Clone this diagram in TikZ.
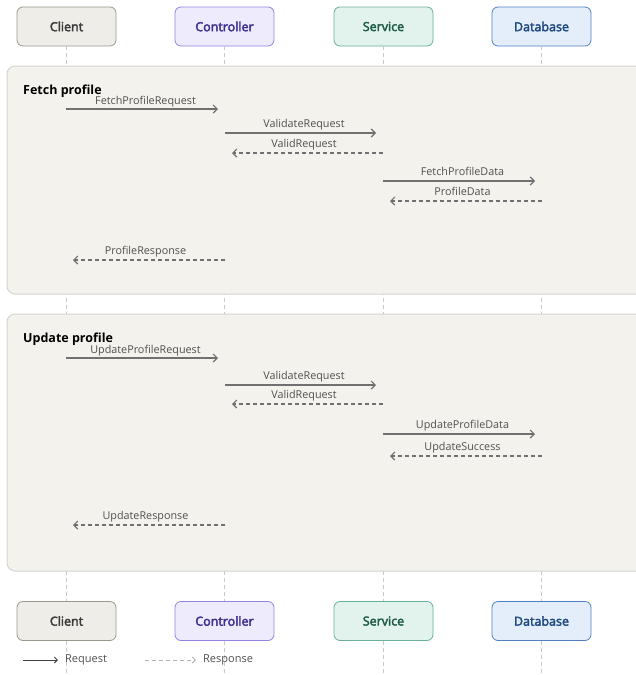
\documentclass[tikz,border=0pt]{standalone}
\usepackage{fontspec}
\setmainfont{Open Sans}
\newfontfamily\semibold[FakeBold=3]{Open Sans}
\usetikzlibrary{arrows.meta}
\definecolor{lifegray}{HTML}{C8C8C8}
\definecolor{groupfill}{HTML}{F3F2EC}
\definecolor{groupline}{HTML}{D6D4CE}
\definecolor{msgline}{HTML}{707070}
\definecolor{msgtext}{HTML}{505050}
\definecolor{clientfill}{HTML}{EFEDE8}
\definecolor{clientline}{HTML}{9B978F}
\definecolor{clienttext}{HTML}{3A3A3A}
\definecolor{ctrlfill}{HTML}{EEEBFC}
\definecolor{ctrlline}{HTML}{8F84E0}
\definecolor{ctrltext}{HTML}{3D3190}
\definecolor{svcfill}{HTML}{E1F3EC}
\definecolor{svcline}{HTML}{6BAF94}
\definecolor{svctext}{HTML}{1E5A48}
\definecolor{dbfill}{HTML}{E4EEFA}
\definecolor{dbline}{HTML}{4E80C2}
\definecolor{dbtext}{HTML}{1F4A80}
\tikzset{
  actor/.style={rounded corners=6pt, minimum width=99pt, minimum height=39pt,
    line width=0.8pt, font=\fontsize{12.5}{14}\semibold, inner sep=0pt},
  lifeline/.style={draw=lifegray, line width=0.8pt, dash pattern=on 4pt off 3pt},
  grp/.style={fill=groupfill, draw=groupline, line width=1pt, rounded corners=8pt},
  grptitle/.style={anchor=base west, font=\fontsize{12.5}{14}\selectfont\bfseries, text=black, inner sep=0pt},
  req/.style={draw=msgline, line width=1.2pt, -{Straight Barb[length=4pt,width=8pt,line width=1.2pt]}, shorten >=7pt},
  resp/.style={draw=msgline, line width=1.1pt, dash pattern=on 4pt off 3pt,
    -{Straight Barb[length=4pt,width=8pt,line width=1.1pt]}, shorten >=7pt},
  msglabel/.style={font=\fontsize{10.8}{12}\selectfont, text=msgtext, inner sep=0pt, anchor=base},
  legtext/.style={anchor=west, inner sep=0pt, font=\fontsize{11}{12}\selectfont, text=msgtext}
}
\begin{document}
\begin{tikzpicture}[x=1pt,y=-1pt]
\useasboundingbox (0,0) rectangle (636,675);

% participants, top and bottom
\node[actor, fill=clientfill, draw=clientline, text=clienttext] (clientT) at (66.5,26.5) {Client};
\node[actor, fill=ctrlfill, draw=ctrlline, text=ctrltext] (ctrlT) at (224.5,26.5) {Controller};
\node[actor, fill=svcfill, draw=svcline, text=svctext] (svcT) at (383.5,26.5) {Service};
\node[actor, fill=dbfill, draw=dbline, text=dbtext] (dbT) at (541.5,26.5) {Database};
\node[actor, fill=clientfill, draw=clientline, text=clienttext] (clientB) at (66.5,621) {Client};
\node[actor, fill=ctrlfill, draw=ctrlline, text=ctrltext] (ctrlB) at (224.5,621) {Controller};
\node[actor, fill=svcfill, draw=svcline, text=svctext] (svcB) at (383.5,621) {Service};
\node[actor, fill=dbfill, draw=dbline, text=dbtext] (dbB) at (541.5,621) {Database};

% lifelines
\foreach \p in {client,ctrl,svc,db}{
  \draw[lifeline] (\p T.south) -- (\p B.north);
  \draw[lifeline] (\p B.south) -- ([yshift=-40pt]\p B.south);
}

% groups
\draw[grp] (7,66) rectangle (660,294);
\draw[grp] (7,314) rectangle (660,571);
\node[grptitle] (g1) at (23,94) {Fetch profile};
\node[grptitle] (g2) at (23,342) {Update profile};

% lifeline x positions
\def\xc{66}\def\xk{225}\def\xs{383}\def\xd{542}

% fetch profile messages
\coordinate (a1) at (\xc,109); \coordinate (b1) at (\xk,109);
\draw[req] (a1) -- (b1) node[msglabel, midway, yshift=5pt] {FetchProfileRequest};
\coordinate (a2) at (\xk,133); \coordinate (b2) at (\xs,133);
\draw[req] (a2) -- (b2) node[msglabel, midway, yshift=6pt] {ValidateRequest};
\coordinate (a3) at (\xs,153); \coordinate (b3) at (\xk,153);
\draw[resp] (a3) -- (b3) node[msglabel, midway, yshift=6pt] {ValidRequest};
\coordinate (a4) at (\xs,181); \coordinate (b4) at (\xd,181);
\draw[req] (a4) -- (b4) node[msglabel, midway, yshift=6pt] {FetchProfileData};
\coordinate (a5) at (\xd,201); \coordinate (b5) at (\xs,201);
\draw[resp] (a5) -- (b5) node[msglabel, midway, yshift=6pt] {ProfileData};
\coordinate (a6) at (\xk,260); \coordinate (b6) at (\xc,260);
\draw[resp] (a6) -- (b6) node[msglabel, midway, yshift=6pt] {ProfileResponse};

% update profile messages
\coordinate (c1) at (\xc,358); \coordinate (d1) at (\xk,358);
\draw[req] (c1) -- (d1) node[msglabel, midway, yshift=5pt] {UpdateProfileRequest};
\coordinate (c2) at (\xk,385); \coordinate (d2) at (\xs,385);
\draw[req] (c2) -- (d2) node[msglabel, midway, yshift=6pt] {ValidateRequest};
\coordinate (c3) at (\xs,404); \coordinate (d3) at (\xk,404);
\draw[resp] (c3) -- (d3) node[msglabel, midway, yshift=6pt] {ValidRequest};
\coordinate (c4) at (\xs,434); \coordinate (d4) at (\xd,434);
\draw[req] (c4) -- (d4) node[msglabel, midway, yshift=6pt] {UpdateProfileData};
\coordinate (c5) at (\xd,456); \coordinate (d5) at (\xs,456);
\draw[resp] (c5) -- (d5) node[msglabel, midway, yshift=6pt] {UpdateSuccess};
\coordinate (c6) at (\xk,525); \coordinate (d6) at (\xc,525);
\draw[resp] (c6) -- (d6) node[msglabel, midway, yshift=6pt] {UpdateResponse};

% legend
\coordinate (l1) at (23,660); \coordinate (l2) at (58,660);
\draw[draw=black!75, line width=0.9pt, -{Straight Barb[length=3pt,width=6pt,line width=0.9pt]}] (l1) -- (l2);
\node[legtext] (lreq) at (65,660) {Request};
\coordinate (l3) at (145,660); \coordinate (l4) at (196,660);
\draw[draw=black!30, line width=0.9pt, dash pattern=on 4pt off 3pt, -{Straight Barb[length=3pt,width=6pt,line width=0.9pt]}] (l3) -- (l4);
\node[legtext] (lresp) at (203,660) {Response};
\end{tikzpicture}
\end{document}
